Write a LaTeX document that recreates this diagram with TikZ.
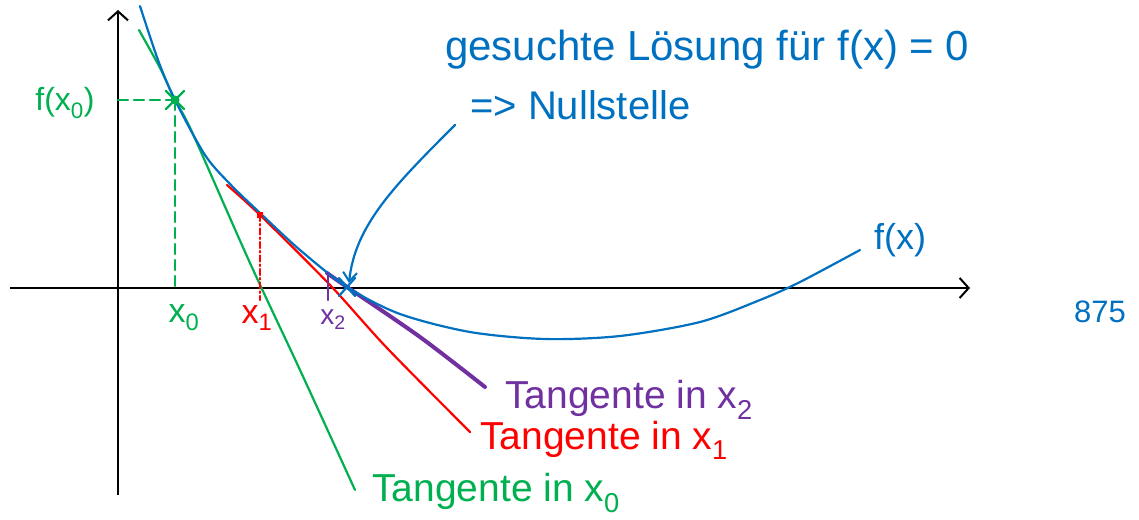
\documentclass[tikz,border=0pt]{standalone}
\usepackage{fontspec}
\setmainfont{Liberation Sans}
\usetikzlibrary{arrows.meta,calc}
\definecolor{penblue}{HTML}{0070C0}
\definecolor{pengreen}{HTML}{00B050}
\definecolor{penred}{HTML}{FF0000}
\definecolor{penpurple}{HTML}{7030A0}

\begin{document}
\begin{tikzpicture}[
  x=1pt,
  y=-1pt,
  axis/.style={-{Straight Barb[length=9pt,width=20pt,line width=2pt]},line width=2pt},
  pen/.style={line width=2.2pt,line cap=round,line join=round},
  hand/.style={font=\fontsize{#1}{#1}\selectfont,inner sep=0pt},
  hand/.default=34
]
  \useasboundingbox (0,0) rectangle (1139,519);

  % axes
  \coordinate (O) at (118,288);
  \draw[axis] (118,495) -- (118,10);
  \draw[axis] (10,288) -- (970,288);

  % Newton points
  \coordinate (P0) at (175,100);
  \coordinate (X0) at (175,288);
  \coordinate (P1) at (260,215);
  \coordinate (X1) at (260,288);
  \coordinate (X2) at (328,288);
  \coordinate (root) at (347,287);

  % tangents
  \draw[pen,pengreen] plot[smooth] coordinates {(139,30) (160,68) (175,100) (192,132) (250,263) (300,370) (355,490)};
  \draw[pen,penred] plot[smooth] coordinates {(227,185) (260,215) (330,285) (387,348) (470,432)};
  \draw[pen,penpurple,line width=4pt] plot[smooth] coordinates {(327,273) (347,287) (420,337) (485,387)};

  % function
  \draw[pen,penblue] plot[smooth] coordinates {(140,6) (158,60) (175,100) (205,155) (230,184) (260,213) (300,250) (347,287) (400,314) (470,332) (545,339) (620,336) (700,322) (760,300) (800,282) (860,250)};

  % helper lines
  \draw[pen,pengreen,dash pattern=on 10pt off 6pt] (O |- P0) -- (P0);
  \draw[pen,pengreen,dash pattern=on 10pt off 6pt] (P0) -- (X0);
  \draw[pen,penred,dash pattern=on 6pt off 3pt on 1.5pt off 3pt] (P1) -- ($(X1)+(0,12)$);
  \draw[pen,penpurple] ($(X2)+(0,-15)$) -- ($(X2)+(0,12)$);

  % marks
  \fill[pengreen] (P0) circle (4.5pt);
  \draw[pen,pengreen] ($(P0)+(-9,-9)$) -- ($(P0)+(9,9)$) ($(P0)+(-9,9)$) -- ($(P0)+(9,-9)$);
  \fill[penred] ($(P1)+(-3,-3)$) rectangle ($(P1)+(3,3)$);
  \draw[pen,penblue] ($(root)+(-8,-9)$) -- ($(root)+(8,9)$) ($(root)+(-8,9)$) -- ($(root)+(8,-9)$);

  % labels
  \node[hand=32,pengreen] (fx0) at (65,103) {f(x\textsubscript{0})};
  \node[hand=34,pengreen] (x0) at (184,318) {x\textsubscript{0}};
  \node[hand=34,penred] (x1) at (257,318) {x\textsubscript{1}};
  \node[hand=28,penpurple] (x2) at (333,320) {x\textsubscript{2}};
  \node[hand=36,penblue] (fx) at (900,240) {f(x)};
  \node[hand=31,penblue] (page) at (1100,312) {875};

  \node[hand=39,penpurple,anchor=west] (t2) at (505,400) {Tangente in x\textsubscript{2}};
  \node[hand=39,penred,anchor=west] (t1) at (480,440) {Tangente in x\textsubscript{1}};
  \node[hand=39,pengreen,anchor=west] (t0) at (372,493) {Tangente in x\textsubscript{0}};

  \node[hand=42,penblue,anchor=west] (note) at (445,50) {gesuchte Lösung für f(x) = 0};
  \node[hand=40,penblue,anchor=west] (zero) at (470,105) {=> Nullstelle};

  % arrow to the root
  \coordinate (tail) at (455,125);
  \draw[pen,penblue,-{Straight Barb[length=9pt,width=14pt,line width=2pt]}]
    (tail) .. controls (395,185) and (355,225) .. ($(root)+(2,-4)$);
\end{tikzpicture}
\end{document}
